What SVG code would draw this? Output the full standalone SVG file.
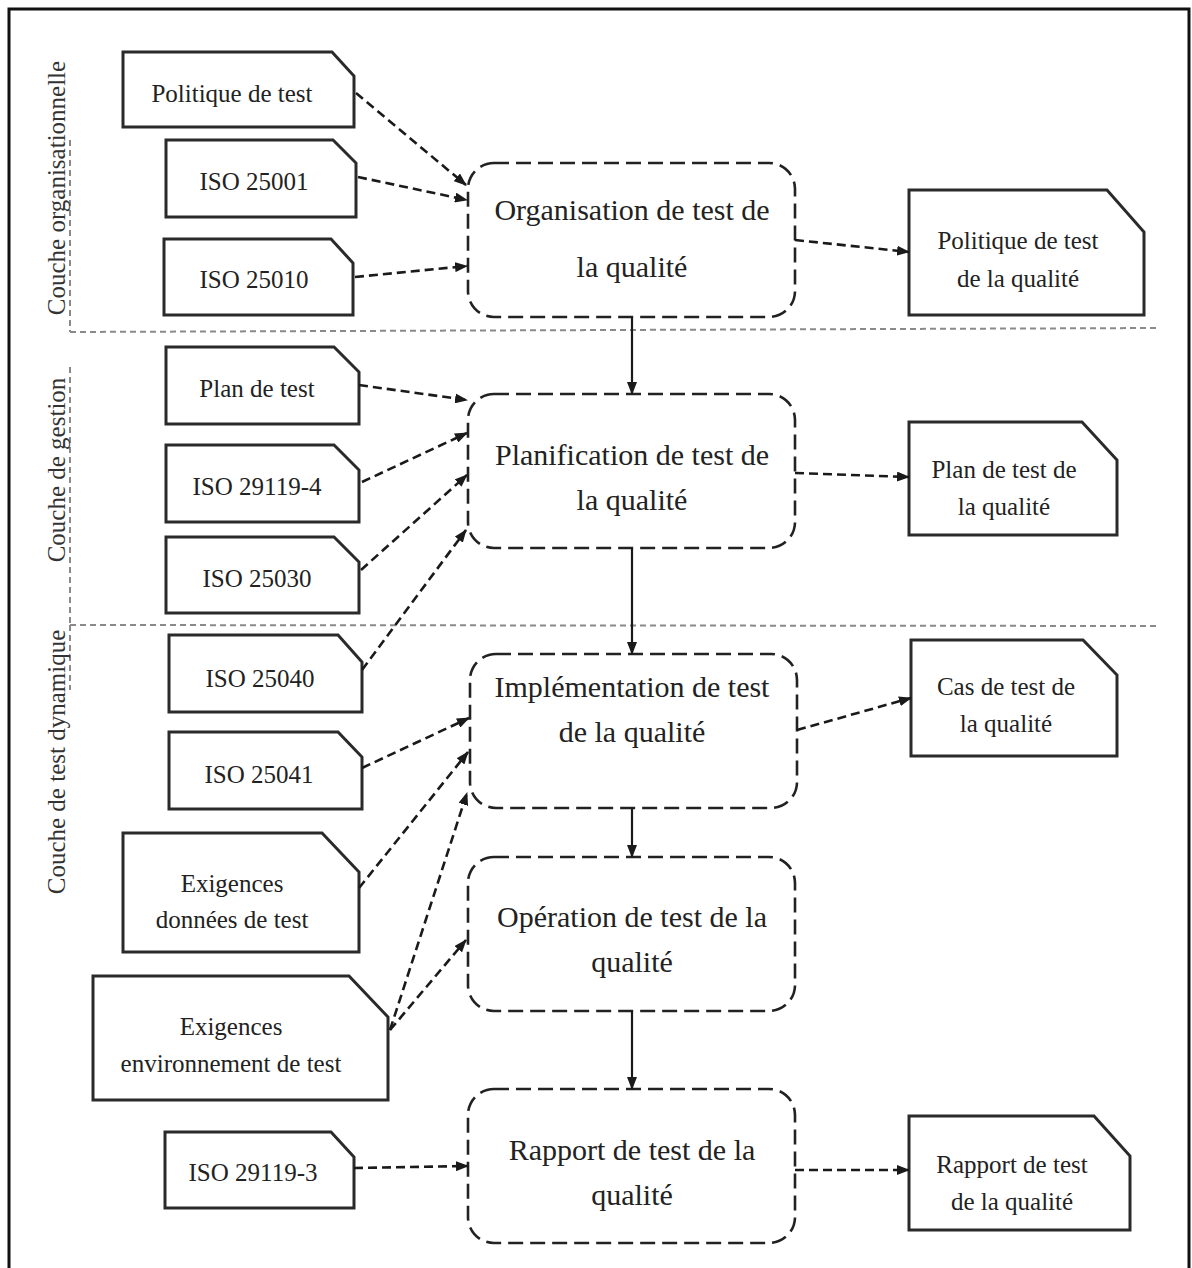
<svg xmlns="http://www.w3.org/2000/svg" width="1192" height="1268" viewBox="0 0 1192 1268">
<defs>
<marker id="ah" markerUnits="userSpaceOnUse" markerWidth="13" markerHeight="10" refX="12" refY="5" orient="auto">
<path d="M0,0 L13,5 L0,10 z" fill="#1a1a1a"/>
</marker>
<style>
.doc{fill:#fff;stroke:#2a2a2a;stroke-width:3}
.proc{fill:#fff;stroke:#222;stroke-width:2.6;stroke-dasharray:15 7}
.t{font-family:"Liberation Serif","Times New Roman",serif;font-size:25px;fill:#222;text-anchor:middle}
.pt{font-family:"Liberation Serif","Times New Roman",serif;font-size:30px;fill:#222;text-anchor:middle}
.side{font-family:"Liberation Serif","Times New Roman",serif;font-size:25px;fill:#333;text-anchor:middle}
.sep{stroke:#8a8a8a;stroke-width:2;stroke-dasharray:6 4;fill:none}
.dc{stroke:#1a1a1a;stroke-width:2.6;stroke-dasharray:9 5;fill:none;marker-end:url(#ah)}
.sc{stroke:#1a1a1a;stroke-width:2.2;fill:none;marker-end:url(#ah)}
</style>
</defs>
<rect width="1192" height="1268" fill="#fff"/>
<path d="M9,1268 V9 H1189 V1268" fill="none" stroke="#111" stroke-width="3"/>

<g id="separators">
<line class="sep" x1="70" y1="332" x2="1158" y2="328"/>
<line class="sep" x1="70" y1="625" x2="1160" y2="626"/>
<line class="sep" x1="70" y1="140" x2="70" y2="332"/>
<line class="sep" x1="70" y1="367" x2="70" y2="625"/>
<line class="sep" x1="70" y1="625" x2="70" y2="690"/>
</g>

<g id="layer-labels">
<text class="side" transform="translate(65,188) rotate(-90)">Couche organisationnelle</text>
<text class="side" transform="translate(65,470) rotate(-90)">Couche de gestion</text>
<text class="side" transform="translate(65,762) rotate(-90)">Couche de test dynamique</text>
</g>

<g id="doc-politique-test">
<path class="doc" d="M123,52 H332 L354,76 V127 H123 Z"/>
<text class="t" x="232" y="102">Politique de test</text>
</g>
<g id="doc-iso25001">
<path class="doc" d="M166,140 H333 L356,163 V217 H166 Z"/>
<text class="t" x="254" y="190">ISO 25001</text>
</g>
<g id="doc-iso25010">
<path class="doc" d="M164,239 H331 L353,263 V315 H164 Z"/>
<text class="t" x="254" y="288">ISO 25010</text>
</g>
<g id="doc-plan-test">
<path class="doc" d="M166,347 H334 L359,372 V424 H166 Z"/>
<text class="t" x="257" y="397">Plan de test</text>
</g>
<g id="doc-iso29119-4">
<path class="doc" d="M166,445 H334 L359,470 V522 H166 Z"/>
<text class="t" x="257" y="495">ISO 29119-4</text>
</g>
<g id="doc-iso25030">
<path class="doc" d="M166,537 H334 L359,562 V613 H166 Z"/>
<text class="t" x="257" y="587">ISO 25030</text>
</g>
<g id="doc-iso25040">
<path class="doc" d="M169,635 H338 L362,662 V712 H169 Z"/>
<text class="t" x="260" y="687">ISO 25040</text>
</g>
<g id="doc-iso25041">
<path class="doc" d="M169,732 H338 L362,757 V809 H169 Z"/>
<text class="t" x="259" y="783">ISO 25041</text>
</g>
<g id="doc-exig-donnees">
<path class="doc" d="M123,833 H322 L359,872 V952 H123 Z"/>
<text class="t" x="232" y="892">Exigences</text>
<text class="t" x="232" y="928">données de test</text>
</g>
<g id="doc-exig-env">
<path class="doc" d="M93,976 H349 L388,1017 V1100 H93 Z"/>
<text class="t" x="231" y="1035">Exigences</text>
<text class="t" x="231" y="1072">environnement de test</text>
</g>
<g id="doc-iso29119-3">
<path class="doc" d="M165,1132 H331 L354,1157 V1208 H165 Z"/>
<text class="t" x="253" y="1181">ISO 29119-3</text>
</g>

<g id="proc-organisation">
<rect class="proc" x="468" y="163" width="327" height="154" rx="26"/>
<text class="pt" x="632" y="220">Organisation de test de</text>
<text class="pt" x="632" y="277">la qualité</text>
</g>
<g id="proc-planification">
<rect class="proc" x="468" y="394" width="327" height="154" rx="26"/>
<text class="pt" x="632" y="465">Planification de test de</text>
<text class="pt" x="632" y="510">la qualité</text>
</g>
<g id="proc-implementation">
<rect class="proc" x="470" y="654" width="327" height="154" rx="26"/>
<text class="pt" x="632" y="697">Implémentation de test</text>
<text class="pt" x="632" y="742">de la qualité</text>
</g>
<g id="proc-operation">
<rect class="proc" x="468" y="857" width="327" height="154" rx="26"/>
<text class="pt" x="632" y="927">Opération de test de la</text>
<text class="pt" x="632" y="972">qualité</text>
</g>
<g id="proc-rapport">
<rect class="proc" x="468" y="1089" width="327" height="154" rx="26"/>
<text class="pt" x="632" y="1160">Rapport de test de la</text>
<text class="pt" x="632" y="1205">qualité</text>
</g>

<g id="doc-politique-qualite">
<path class="doc" d="M909,190 H1107 L1144,232 V315 H909 Z"/>
<text class="t" x="1018" y="249">Politique de test</text>
<text class="t" x="1018" y="287">de la qualité</text>
</g>
<g id="doc-plan-qualite">
<path class="doc" d="M909,422 H1082 L1117,460 V535 H909 Z"/>
<text class="t" x="1004" y="478">Plan de test de</text>
<text class="t" x="1004" y="515">la qualité</text>
</g>
<g id="doc-cas-qualite">
<path class="doc" d="M911,640 H1083 L1117,675 V756 H911 Z"/>
<text class="t" x="1006" y="695">Cas de test de</text>
<text class="t" x="1006" y="732">la qualité</text>
</g>
<g id="doc-rapport-qualite">
<path class="doc" d="M909,1116 H1094 L1130,1156 V1230 H909 Z"/>
<text class="t" x="1012" y="1173">Rapport de test</text>
<text class="t" x="1012" y="1210">de la qualité</text>
</g>

<g id="connectors">
<line class="dc" x1="356" y1="93" x2="466" y2="185"/>
<line class="dc" x1="358" y1="177" x2="467" y2="200"/>
<line class="dc" x1="355" y1="277" x2="467" y2="266"/>
<line class="dc" x1="795" y1="240" x2="909" y2="252"/>
<line class="dc" x1="359" y1="385" x2="467" y2="400"/>
<line class="dc" x1="362" y1="482" x2="467" y2="433"/>
<line class="dc" x1="361" y1="570" x2="467" y2="475"/>
<line class="dc" x1="362" y1="670" x2="466" y2="530"/>
<line class="dc" x1="795" y1="473" x2="909" y2="477"/>
<line class="dc" x1="362" y1="768" x2="469" y2="718"/>
<line class="dc" x1="359" y1="888" x2="468" y2="752"/>
<line class="dc" x1="390" y1="1030" x2="467" y2="793"/>
<line class="dc" x1="390" y1="1030" x2="466" y2="940"/>
<line class="dc" x1="797" y1="730" x2="911" y2="698"/>
<line class="dc" x1="354" y1="1168" x2="468" y2="1166"/>
<line class="dc" x1="795" y1="1170" x2="909" y2="1170"/>
<line class="sc" x1="632" y1="317" x2="632" y2="394"/>
<line class="sc" x1="632" y1="548" x2="632" y2="654"/>
<line class="sc" x1="632" y1="808" x2="632" y2="857"/>
<line class="sc" x1="632" y1="1011" x2="632" y2="1089"/>
</g>
</svg>
